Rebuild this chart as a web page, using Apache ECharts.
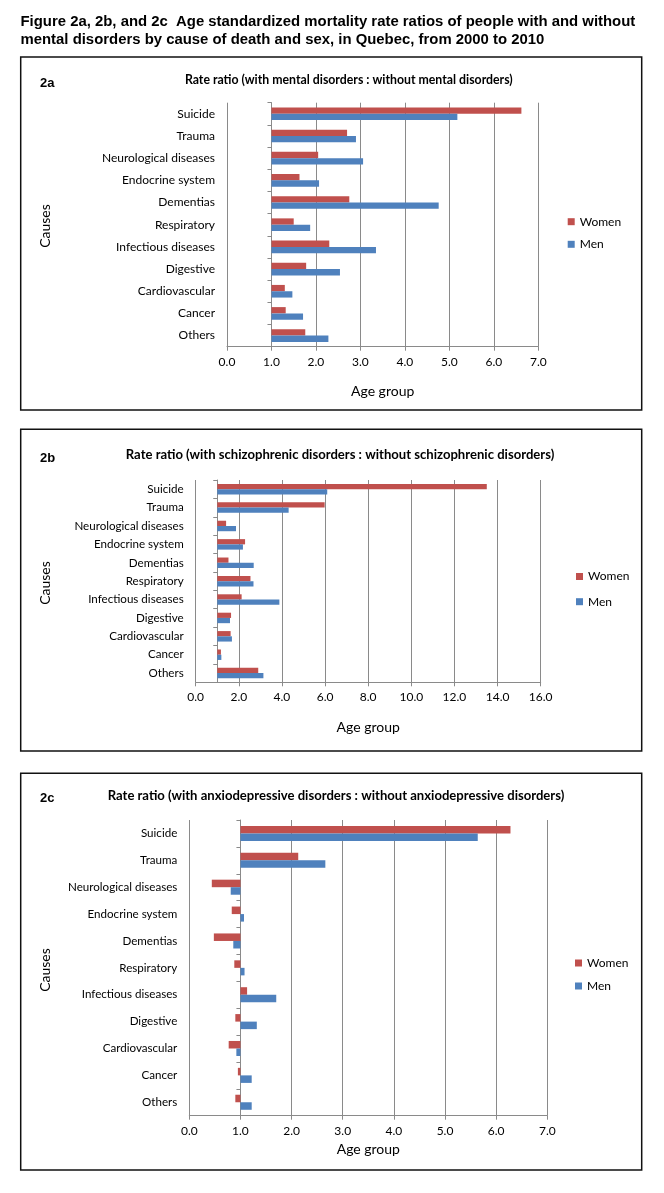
<!DOCTYPE html>
<html><head><meta charset="utf-8">
<script src="https://cdn.jsdelivr.net/npm/echarts@6/dist/echarts.min.js"></script>
<style>html,body{margin:0;padding:0;background:#fff}#c{width:664px;height:1193px}</style>
</head><body><div id="c"></div>
<script>
// ---- data ----
const categories = ['Suicide','Trauma','Neurological diseases','Endocrine system','Dementias','Respiratory','Infectious diseases','Digestive','Cardiovascular','Cancer','Others'];
const seriesNames = ['Women','Men'];
const women2a = [6.62,2.70,2.05,1.63,2.75,1.50,2.30,1.78,1.30,1.32,1.76];
const men2a   = [5.18,2.90,3.06,2.07,4.76,1.87,3.35,2.54,1.47,1.71,2.28];
const women2b = [13.50,5.98,1.41,2.29,1.52,2.54,2.13,1.64,1.62,1.17,2.90];
const men2b   = [6.10,4.31,1.87,2.19,2.69,2.68,3.88,1.59,1.68,1.19,3.14];
const women2c = [6.28,2.13,0.44,0.83,0.48,0.88,1.13,0.90,0.77,0.95,0.90];
const men2c   = [5.64,2.66,0.81,1.07,0.86,1.08,1.70,1.32,0.92,1.22,1.22];
const xMaxes = [7, 16, 7];
const xIntervals = [1, 2, 1];
const baseline = 1;
const panelLabels = ['2a','2b','2c'];
const panelTitles = [
  'Rate ratio (with mental disorders : without mental disorders)',
  'Rate ratio (with schizophrenic disorders : without schizophrenic disorders)',
  'Rate ratio (with anxiodepressive disorders : without anxiodepressive disorders)'
];
const figureTitle = ['Figure 2a, 2b, and 2c  Age standardized mortality rate ratios of people with and without',
                     'mental disorders by cause of death and sex, in Quebec, from 2000 to 2010'];
const xAxisName = 'Age group';
const yAxisName = 'Causes';

// ---- layout / style ----
const FONT = 'Lato, "Open Sans", sans-serif';
const COLORS = {Women: '#C0504D', Men: '#4F81BD'};
const GRIDC = '#8a8a8a';
const panels = [
  {w: women2a, m: men2a, grid: {left: 227, top: 102.7, width: 311.3, height: 244}, box: [20.7, 57, 621, 353], nameGap: 38,
   titleY: 80, titleX: 348.8, titleSize: 12.3, catSize: 12, causesY: 226, legend: [567.7, 222.7, 245.3], barGap: '43%'},
  {w: women2b, m: men2b, grid: {left: 195.7, top: 480, width: 345, height: 202.3}, box: [20.7, 429.3, 621, 321.7], nameGap: 38,
   titleY: 455, titleX: 340, titleSize: 13.1, catSize: 11.6, causesY: 583, legend: [576, 577.5, 602.7], barGap: '43%'},
  {w: women2c, m: men2c, grid: {left: 189.3, top: 820, width: 358, height: 295.7}, box: [20.7, 773.3, 621, 396.7], nameGap: 27,
   titleY: 795.5, titleX: 336, titleSize: 13.1, catSize: 11.6, causesY: 970, legend: [575, 964, 987], barGap: '44%'}
];

const grids = [], xAxes = [], yAxes = [], series = [], legends = [], graphics = [];
panels.forEach((p, i) => {
  grids.push(Object.assign({}, p.grid));
  xAxes.push({
    gridIndex: i, type: 'value', min: 0, max: xMaxes[i], interval: xIntervals[i],
    axisLine: {show: true, lineStyle: {color: GRIDC, width: 1}},
    axisTick: {show: true, length: 4, lineStyle: {color: GRIDC}},
    splitLine: {show: true, lineStyle: {color: GRIDC, width: 1}},
    axisLabel: {formatter: v => v.toFixed(1), fontSize: 12, color: '#000', fontFamily: FONT, margin: 9},
    name: xAxisName, nameLocation: 'middle', nameGap: p.nameGap,
    nameTextStyle: {fontSize: 14, color: '#000', fontFamily: FONT}
  });
  yAxes.push({
    gridIndex: i, type: 'category', data: categories, inverse: true,
    axisLine: {show: false}, axisTick: {show: false}, splitLine: {show: false},
    axisLabel: {fontSize: p.catSize, color: '#000', fontFamily: FONT, margin: 12}
  });
  yAxes.push({
    gridIndex: i, type: 'category', data: categories, inverse: true, position: 'left',
    offset: -p.grid.width * baseline / xMaxes[i],
    axisLine: {show: true, onZero: false, lineStyle: {color: GRIDC, width: 1}},
    axisTick: {show: true, length: 4, lineStyle: {color: GRIDC}},
    axisLabel: {show: false}, splitLine: {show: false}
  });
  [['Women', p.w], ['Men', p.m]].forEach(([name, vals]) => {
    const stack = 's' + i + name;
    series.push({
      type: 'bar', xAxisIndex: i, yAxisIndex: 2 * i, stack, silent: true,
      name: '_base' + name, barCategoryGap: p.barGap, barGap: '0%',
      itemStyle: {color: 'transparent'}, emphasis: {disabled: true},
      data: vals.map(v => Math.min(v, baseline))
    });
    series.push({
      type: 'bar', xAxisIndex: i, yAxisIndex: 2 * i, stack, name,
      barCategoryGap: p.barGap, barGap: '0%',
      itemStyle: {color: COLORS[name]},
      data: vals.map(v => Math.abs(v - baseline))
    });
  });
  seriesNames.forEach((n, k) => {
    legends.push({
      data: [n], left: p.legend[0], top: p.legend[1 + k] - 7, orient: 'vertical',
      icon: 'rect', itemWidth: 7, itemHeight: 7, padding: 0,
      textStyle: {fontSize: 12, color: '#000', fontFamily: FONT}
    });
  });
  graphics.push({type: 'rect', shape: {x: p.box[0], y: p.box[1], width: p.box[2], height: p.box[3]},
    style: {fill: 'none', stroke: '#111', lineWidth: 1.5}, z: 0});
  graphics.push({type: 'text', x: 40, y: p.titleY + 3, style: {text: panelLabels[i], fontSize: 13, fontWeight: 'bold',
    fontFamily: 'Liberation Sans, Arial, sans-serif', fill: '#000', verticalAlign: 'middle'}});
  graphics.push({type: 'text', x: p.titleX, y: p.titleY,
    style: {text: panelTitles[i], fontSize: p.titleSize, fontWeight: 'bold', fontFamily: FONT, fill: '#000', align: 'center', verticalAlign: 'middle'}});
  graphics.push({type: 'text', x: 45, y: p.causesY, rotation: Math.PI / 2,
    style: {text: yAxisName, fontSize: 14, fontFamily: FONT, fill: '#000', align: 'center', verticalAlign: 'middle'}});
});
graphics.push({type: 'text', x: 20.5, y: 22, style: {text: figureTitle[0], fontSize: 14.9, fontWeight: 'bold',
  fontFamily: 'Liberation Sans, Arial, sans-serif', fill: '#000', verticalAlign: 'middle'}});
graphics.push({type: 'text', x: 20.5, y: 40, style: {text: figureTitle[1], fontSize: 14.9, fontWeight: 'bold',
  fontFamily: 'Liberation Sans, Arial, sans-serif', fill: '#000', verticalAlign: 'middle'}});

const chart = echarts.init(document.getElementById('c'), null, {renderer: 'canvas'});
chart.setOption({
  animation: false, backgroundColor: '#fff',
  grid: grids, xAxis: xAxes, yAxis: yAxes, series, legend: legends, graphic: graphics
});
</script></body></html>
